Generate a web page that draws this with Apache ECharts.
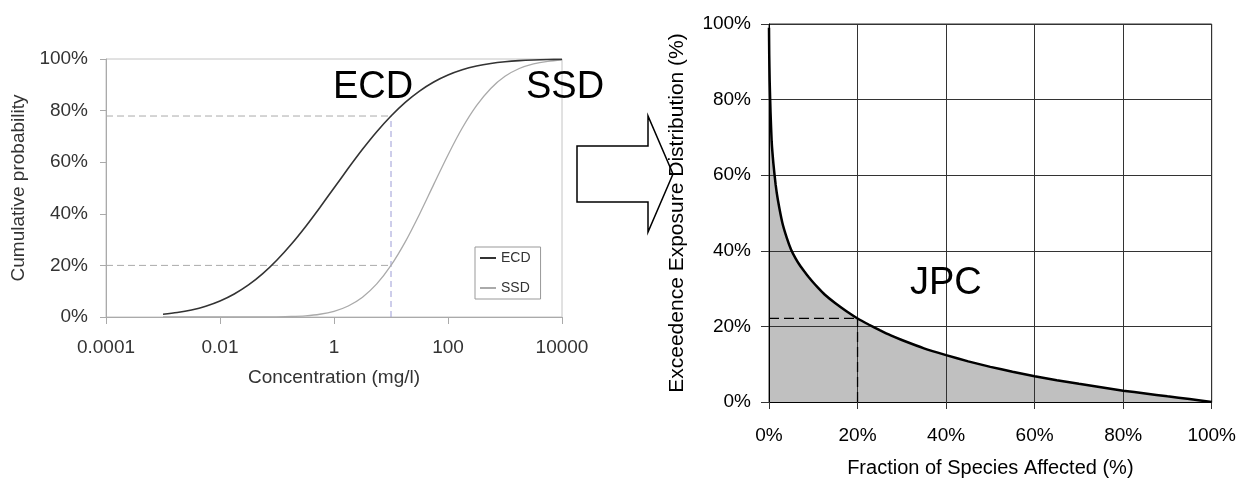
<!DOCTYPE html>
<html>
<head>
<meta charset="utf-8">
<script src="https://cdn.jsdelivr.net/npm/echarts@6/dist/echarts.min.js"></script>
<style>
html,body{margin:0;padding:0;background:#fff;}
#chart{width:1239px;height:483px;}
</style>
</head>
<body>
<div id="chart"></div>
<script>
// ---------- Left chart: cumulative distributions ----------
const concentrations = [0.001, 0.001778, 0.003162, 0.005623, 0.01, 0.01778, 0.03162, 0.05623,
  0.1, 0.1778, 0.3162, 0.5623, 1, 1.778, 3.162, 5.623, 10, 17.78, 31.62, 56.23,
  100, 177.8, 316.2, 562.3, 1000, 1778, 3162, 5623, 10000];
const ecdValues = [1.05, 1.72, 2.72, 4.17, 6.20, 8.91, 12.43, 16.81, 22.09, 28.20, 35.02, 42.38,
  50.0, 57.62, 64.98, 71.80, 77.91, 83.19, 87.57, 91.09, 93.80, 95.83, 97.28, 98.28,
  98.95, 99.38, 99.64, 99.80, 99.89];
const ssdValues = [0, 0, 0, 0, 0, 0.01, 0.01, 0.03, 0.07, 0.19, 0.47, 1.06, 2.21, 4.28, 7.68,
  12.82, 19.99, 29.12, 39.85, 51.40, 62.82, 73.24, 81.91, 88.59, 93.28, 96.32, 98.13, 99.12, 99.62];
const concTickValues = [0.0001, 0.01, 1, 100, 10000];
const concTickLabels = ['0.0001', '0.01', '1', '100', '10000'];
const guideConc = 10;
const guideEcd = 77.9;
const guideSsd = 20.0;

// ---------- Right chart: joint probability curve ----------
const speciesAffected = [0, 0.05, 0.15, 0.35, 0.6, 1, 1.5, 2, 3, 4, 5, 6, 7, 8, 9, 10, 11, 12.5, 15, 17.5, 20,
  22.5, 25, 27.5, 30, 35, 40, 45, 50, 55, 60, 65, 70, 75, 80, 85, 90, 95, 100];
const exceedence = [99, 92, 85, 76.5, 69, 63, 57.5, 53.5, 47.5, 43.5, 40.3, 38.0, 36.1, 34.5, 33.0, 31.6, 30.3, 28.5, 26.1, 24.0, 22.1,
  20.5, 19.0, 17.6, 16.4, 14.2, 12.4, 10.75, 9.3, 8.0, 6.8, 5.75, 4.8, 3.9, 3.0, 2.25, 1.5, 0.8, 0];
const jpcGuideX = 20;
const jpcGuideY = 22.1;

const FONT = 'Liberation Sans, Arial, sans-serif';

const chart = echarts.init(document.getElementById('chart'), null, {renderer: 'canvas'});

const zip = (xs, ys) => xs.map((x, i) => [x, ys[i]]);

const option = {
  animation: false,
  backgroundColor: '#fff',
  textStyle: {fontFamily: FONT},
  legend: {
    data: ['ECD', 'SSD'],
    orient: 'vertical',
    left: 475,
    top: 247,
    padding: [3, 10, 3, 5],
    itemGap: 14,
    itemWidth: 16,
    itemHeight: 2,
    icon: 'rect',
    borderColor: '#999',
    borderWidth: 1,
    textStyle: {fontFamily: FONT, fontSize: 14, color: '#333', lineHeight: 16}
  },
  grid: [
    {left: 106, top: 59, width: 456, height: 258, show: true, borderColor: '#c4c4c4', borderWidth: 1, backgroundColor: 'transparent'},
    {left: 769, top: 24, width: 444, height: 378, show: true, borderColor: '#333', borderWidth: 1, backgroundColor: 'transparent'}
  ],
  xAxis: [
    {
      gridIndex: 0, type: 'log', logBase: 10, min: 0.0001, max: 10000,
      name: 'Concentration (mg/l)', nameLocation: 'middle', nameGap: 51,
      nameTextStyle: {fontFamily: FONT, fontSize: 19, color: '#333'},
      axisLine: {show: true, lineStyle: {color: '#aaa', width: 1}},
      axisTick: {show: true, inside: false, length: 7, lineStyle: {color: '#aaa'}, customValues: concTickValues},
      axisLabel: {
        customValues: concTickValues, margin: 21, fontFamily: FONT, fontSize: 19, color: '#333',
        formatter: function (v) {
          let best = 0, bd = Infinity;
          concTickValues.forEach(function (t, i) {
            const d = Math.abs(Math.log10(t) - Math.log10(v));
            if (d < bd) { bd = d; best = i; }
          });
          return concTickLabels[best];
        }
      },
      splitLine: {show: false}, minorTick: {show: false}
    },
    {
      gridIndex: 1, type: 'value', min: 0, max: 100, interval: 20, z: 3,
      name: 'Fraction of Species Affected (%)', nameLocation: 'middle', nameGap: 56,
      nameTextStyle: {fontFamily: FONT, fontSize: 20, color: '#000'},
      axisLine: {show: true, lineStyle: {color: '#000', width: 1}},
      axisTick: {show: true, inside: false, length: 7, lineStyle: {color: '#333'}},
      axisLabel: {formatter: '{value}%', margin: 24, fontFamily: FONT, fontSize: 19, color: '#000'},
      splitLine: {show: true, lineStyle: {color: '#333', width: 1}}
    }
  ],
  yAxis: [
    {
      gridIndex: 0, type: 'value', min: 0, max: 100, interval: 20,
      name: 'Cumulative probability', nameLocation: 'middle', nameGap: 78,
      nameTextStyle: {fontFamily: FONT, fontSize: 19, color: '#333'},
      axisLine: {show: true, lineStyle: {color: '#aaa', width: 1}},
      axisTick: {show: true, inside: false, length: 6, lineStyle: {color: '#aaa'}},
      axisLabel: {formatter: '{value}%', margin: 18, fontFamily: FONT, fontSize: 19, color: '#333'},
      splitLine: {show: false}
    },
    {
      gridIndex: 1, type: 'value', min: 0, max: 100, interval: 20, z: 3,
      name: 'Exceedence Exposure Distribution (%)', nameLocation: 'middle', nameGap: 81,
      nameTextStyle: {fontFamily: FONT, fontSize: 21, color: '#000'},
      axisLine: {show: true, lineStyle: {color: '#000', width: 1}},
      axisTick: {show: true, inside: false, length: 8, lineStyle: {color: '#333'}},
      axisLabel: {formatter: '{value}%', margin: 18, fontFamily: FONT, fontSize: 19, color: '#000'},
      splitLine: {show: true, lineStyle: {color: '#333', width: 1}}
    }
  ],
  series: [
    {
      name: 'guide-ecd', type: 'line', xAxisIndex: 0, yAxisIndex: 0, symbol: 'none', silent: true,
      data: [[concTickValues[0], guideEcd], [guideConc, guideEcd]],
      lineStyle: {color: '#aaa', width: 1, type: [7, 4]}, z: 1
    },
    {
      name: 'guide-ssd', type: 'line', xAxisIndex: 0, yAxisIndex: 0, symbol: 'none', silent: true,
      data: [[concTickValues[0], guideSsd], [guideConc, guideSsd]],
      lineStyle: {color: '#aaa', width: 1, type: [7, 4]}, z: 1
    },
    {
      name: 'guide-vert', type: 'line', xAxisIndex: 0, yAxisIndex: 0, symbol: 'none', silent: true,
      data: [[guideConc, 0], [guideConc, guideEcd]],
      lineStyle: {color: '#9c9cd6', width: 1, type: [6, 4]}, z: 1
    },
    {
      name: 'ECD', type: 'line', xAxisIndex: 0, yAxisIndex: 0, symbol: 'none', smooth: 0.3,
      data: zip(concentrations, ecdValues),
      itemStyle: {color: '#333'}, lineStyle: {color: '#333', width: 1.6}, z: 3
    },
    {
      name: 'SSD', type: 'line', xAxisIndex: 0, yAxisIndex: 0, symbol: 'none', smooth: 0.3,
      data: zip(concentrations, ssdValues),
      itemStyle: {color: '#aaa'}, lineStyle: {color: '#aaa', width: 1.3}, z: 2
    },
    {
      name: 'JPC-area', type: 'line', xAxisIndex: 1, yAxisIndex: 1, symbol: 'none', silent: true,
      smooth: 0.15,
      data: zip(speciesAffected, exceedence),
      lineStyle: {width: 0, opacity: 0}, areaStyle: {color: '#c0c0c0', opacity: 1}, z: 1
    },
    {
      name: 'JPC', type: 'line', xAxisIndex: 1, yAxisIndex: 1, symbol: 'none', silent: true,
      smooth: 0.15,
      data: zip(speciesAffected, exceedence),
      lineStyle: {color: '#000', width: 2.5}, z: 5
    },
    {
      name: 'jpc-guide-h', type: 'line', xAxisIndex: 1, yAxisIndex: 1, symbol: 'none', silent: true,
      data: [[0, jpcGuideY], [jpcGuideX, jpcGuideY]],
      lineStyle: {color: '#000', width: 1.3, type: [10, 5]}, z: 6
    },
    {
      name: 'jpc-guide-v', type: 'line', xAxisIndex: 1, yAxisIndex: 1, symbol: 'none', silent: true,
      data: [[jpcGuideX, 0], [jpcGuideX, jpcGuideY]],
      lineStyle: {color: '#000', width: 1.3, type: [10, 5]}, z: 6
    }
  ],
  graphic: [
    {
      type: 'polygon', z: 0, silent: true,
      shape: {points: [[577, 146], [648, 146], [648, 116], [673, 174], [648, 232], [648, 202], [577, 202]]},
      style: {fill: 'none', stroke: '#000', lineWidth: 1.5}
    },
    {type: 'text', z: 10, silent: true, style: {text: 'ECD', x: 333, y: 88, font: '38px ' + FONT, fill: '#000', verticalAlign: 'middle'}},
    {type: 'text', z: 10, silent: true, style: {text: 'SSD', x: 526, y: 88, font: '38px ' + FONT, fill: '#000', verticalAlign: 'middle'}},
    {type: 'text', z: 10, silent: true, style: {text: 'JPC', x: 910, y: 284, font: '38px ' + FONT, fill: '#000', verticalAlign: 'middle'}}
  ]
};

chart.setOption(option);
</script>
</body>
</html>
